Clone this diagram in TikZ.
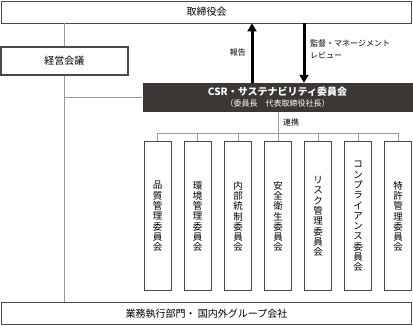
\documentclass[tikz,border=0pt]{standalone}
\usepackage{fontspec}
\setmainfont{Noto Sans CJK JP}
\usepackage{tikz}
\usetikzlibrary{arrows.meta,positioning}
\definecolor{orgline}{HTML}{4A4A4A}
\definecolor{orgthin}{HTML}{9A9A9A}
\definecolor{orgdark}{HTML}{3A3735}

\begin{document}
\begin{tikzpicture}[x=1pt,y=-1pt,>=Latex,font=\fontsize{10}{12}\selectfont]

\tikzset{
wide/.style={
    draw=orgline,
    line width=0.8pt,
    fill=white,
    minimum width=410pt,
    minimum height=22pt
},
kbox/.style={
    draw=orgline,
    line width=1pt,
    fill=white,
    minimum width=27pt,
    minimum height=149pt,
    align=center,
    font=\fontsize{9.5}{10.3}\selectfont
},
ln/.style={draw=orgthin,line width=0.8pt},
bar/.style={-{Triangle[width=9pt,length=8pt]},line width=3pt,color=black},
lab/.style={font=\fontsize{8}{12}\selectfont,inner sep=0pt}
}

\useasboundingbox (0,0) rectangle (413,326);

\node[wide] (board) at (206.5,12) {取締役会};
\node[wide] (exec) at (206.5,313.5) {業務執行部門・ 国内外グループ会社};
\node[draw=orgline,line width=1.2pt,minimum width=127pt,minimum height=28pt] (keiei) at (64.5,61) {経営会議};

\node[fill=orgdark,text=white,minimum width=270pt,minimum height=29pt,
      inner sep=0pt,align=center] (csr) at (277.5,97.5)
{\textbf{CSR・サステナビリティ委員会}\\[-1pt]{\fontsize{8}{9}\selectfont （委員長　代表取締役社長）}};

\node[kbox] (hinshitsu) at (157.5,216.5) {品\\質\\管\\理\\委\\員\\会};
\node[kbox] (kankyo) at (197.5,216.5) {環\\境\\管\\理\\委\\員\\会};
\node[kbox] (naibu) at (238,216.5) {内\\部\\統\\制\\委\\員\\会};
\node[kbox] (anzen) at (278,216.5) {安\\全\\衛\\生\\委\\員\\会};
\node[kbox] (risk) at (318,216.5) {リ\\ス\\ク\\管\\理\\委\\員\\会};
\node[kbox] (comp) at (358,216.5) {コ\\ン\\プ\\ラ\\イ\\ア\\ン\\ス\\委\\員\\会};
\node[kbox] (tokkyo) at (398,216.5) {特\\許\\管\\理\\委\\員\\会};

\coordinate (branch) at (278,133.5);

% left trunk
\draw[ln] (board.south -| keiei.north) -- (keiei.north);
\draw[ln] (keiei.south) -- (keiei.south |- exec.north);
\draw[ln] (keiei.south |- csr.west) -- (csr.west);

% report and supervision
\draw[bar] ([xshift=-25.5pt]csr.north) -- ([xshift=-25.5pt]csr.north |- board.south);
\draw[bar] ([xshift=26.5pt]csr.north |- board.south) -- ([xshift=26.5pt]csr.north);
\node[lab,anchor=east] (hokoku) at (246,52) {報告};
\node[lab,anchor=north west,align=left] (kantoku) at (310,40)
{監督・マネージメント\\レビュー};

% committees
\draw[ln] (csr.south -| branch) -- (anzen.north);
\node[lab,anchor=west] (renkei) at (283,122) {連携};
\draw[ln] (hinshitsu.north) -- (hinshitsu.north |- branch) -- (tokkyo.north |- branch) -- (tokkyo.north);
\draw[ln] (kankyo.north) -- (kankyo.north |- branch);
\draw[ln] (naibu.north) -- (naibu.north |- branch);
\draw[ln] (risk.north) -- (risk.north |- branch);
\draw[ln] (comp.north) -- (comp.north |- branch);

\end{tikzpicture}
\end{document}
